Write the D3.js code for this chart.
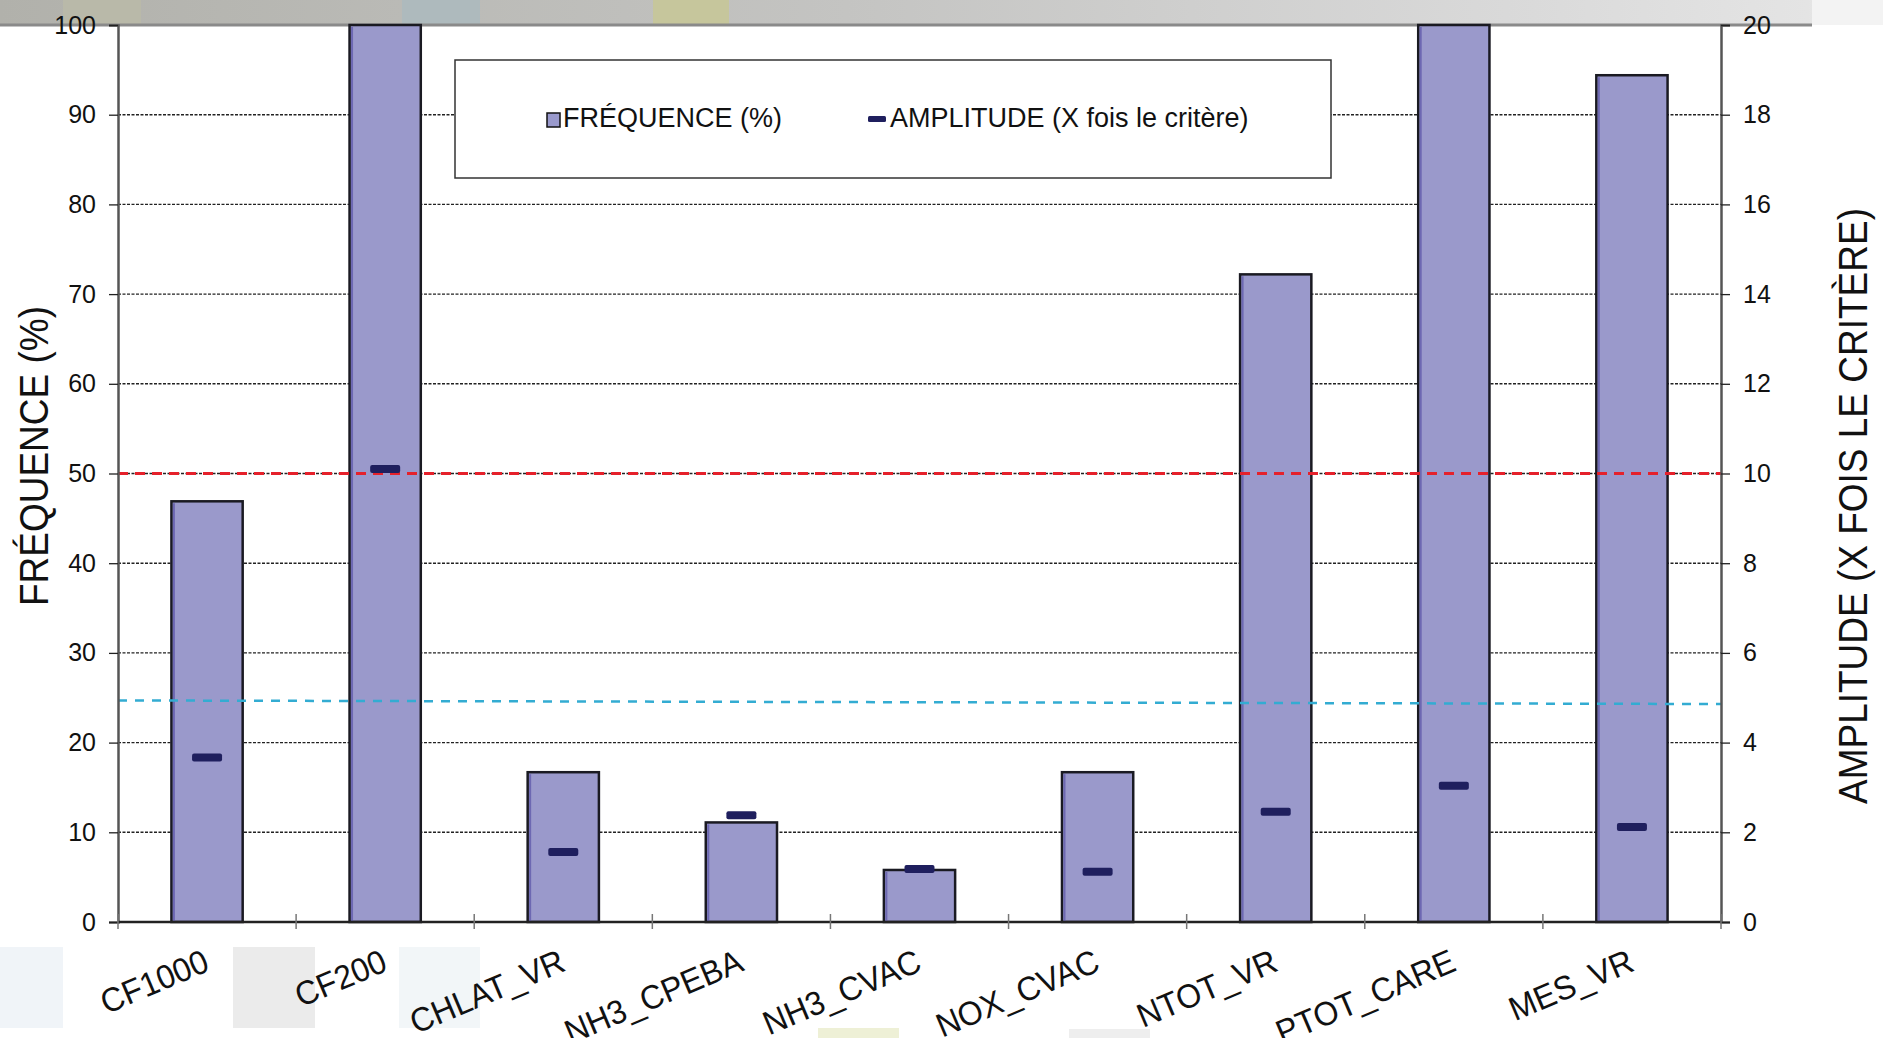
<!DOCTYPE html>
<html lang="fr">
<head>
<meta charset="utf-8">
<script src="https://cdn.jsdelivr.net/npm/d3@7"></script>
<style>
  html, body { margin: 0; padding: 0; background: #ffffff; }
  svg { display: block; font-family: "Liberation Sans", Arial, sans-serif; }
</style>
</head>
<body>
<svg id="chart" width="1883" height="1038"></svg>
<script>
// Stations / paramètres
const categories = ["CF1000", "CF200", "CHLAT_VR", "NH3_CPEBA", "NH3_CVAC", "NOX_CVAC", "NTOT_VR", "PTOT_CARE", "MES_VR"];
// Fréquence de dépassement (%) — axe de gauche
const frequence = [46.9, 100, 16.7, 11.1, 5.8, 16.7, 72.2, 100, 94.4];
// Amplitude du dépassement (X fois le critère) — axe de droite
const amplitude = [3.67, 10.1, 1.56, 2.38, 1.18, 1.12, 2.46, 3.04, 2.12];
// Seuils de référence (en % de fréquence)
const seuilRouge = 50;
const seuilCyan = [24.7, 24.3];
// Graduations
const ticksGauche = [0, 10, 20, 30, 40, 50, 60, 70, 80, 90, 100];
const ticksDroite = [0, 2, 4, 6, 8, 10, 12, 14, 16, 18, 20];
const titreGauche = "FRÉQUENCE (%)";
const titreDroite = "AMPLITUDE (X FOIS LE CRITÈRE)";
const legendeLabels = ["FRÉQUENCE (%)", "AMPLITUDE (X fois le critère)"];

const svg = d3.select("#chart");
const plotL = 118, plotR = 1721, plotT = 25, plotB = 922;

const x = d3.scaleBand().domain(categories).range([plotL, plotR]).paddingInner(0.6).paddingOuter(0.3);
const step = x.step();
const yL = d3.scaleLinear().domain([0, 100]).range([plotB, plotT]);
const yR = d3.scaleLinear().domain([0, 20]).range([plotB, plotT]);

// --- fond : bandeau gris en haut et quelques aplats clairs en bas ---
const defs = svg.append("defs");
const grad = defs.append("linearGradient").attr("id", "bandeau").attr("x1", 0).attr("x2", 1).attr("y1", 0).attr("y2", 0);
grad.append("stop").attr("offset", "0%").attr("stop-color", "#b1b1ab");
grad.append("stop").attr("offset", "45%").attr("stop-color", "#c4c4c2");
grad.append("stop").attr("offset", "80%").attr("stop-color", "#d9d9d9");
grad.append("stop").attr("offset", "96%").attr("stop-color", "#e4e4e4");
grad.append("stop").attr("offset", "100%").attr("stop-color", "#f2f2f2");
svg.append("rect").attr("x", 0).attr("y", 0).attr("width", 1883).attr("height", plotT).attr("fill", "url(#bandeau)");
const patches = [
  {x: 63, y: 0, w: 78, h: plotT, c: "#b9b9a9"},
  {x: 402, y: 0, w: 78, h: plotT, c: "#aebabd"},
  {x: 653, y: 0, w: 76, h: plotT, c: "#c6c69c"},
  {x: 1812, y: 0, w: 71, h: plotT, c: "#f3f3f3"},
  {x: 0, y: 947, w: 63, h: 81, c: "#f0f4f8"},
  {x: 233, y: 947, w: 82, h: 81, c: "#ebebeb"},
  {x: 399, y: 947, w: 81, h: 81, c: "#f2f6f8"},
  {x: 818, y: 1028, w: 81, h: 10, c: "#eef0d6"},
  {x: 1069, y: 1029, w: 81, h: 9, c: "#eeeeee"}
];
svg.append("g").selectAll("rect").data(patches).join("rect")
  .attr("x", d => d.x).attr("y", d => d.y).attr("width", d => d.w).attr("height", d => d.h)
  .attr("fill", d => d.c);
svg.append("line").attr("x1", 0).attr("x2", 1812).attr("y1", plotT).attr("y2", plotT)
  .attr("stroke", "#8a8a8a").attr("stroke-width", 3);

// --- quadrillage ---
svg.append("g").selectAll("line").data(ticksGauche.filter(t => t > 0 && t < 100)).join("line")
  .attr("x1", plotL).attr("x2", plotR)
  .attr("y1", d => yL(d)).attr("y2", d => yL(d))
  .attr("stroke", "#222").attr("stroke-width", 1.4).attr("stroke-dasharray", "3,1.5");

// --- légende (cadre blanc par-dessus le quadrillage) ---
const lg = svg.append("g");
lg.append("rect").attr("x", 455).attr("y", 60).attr("width", 876).attr("height", 118)
  .attr("fill", "#ffffff").attr("stroke", "#333").attr("stroke-width", 1.5);
lg.append("rect").attr("x", 547).attr("y", 113).attr("width", 13).attr("height", 14)
  .attr("fill", "#9999cc").attr("stroke", "#111").attr("stroke-width", 1.5);
lg.append("text").attr("x", 563).attr("y", 120).attr("dominant-baseline", "middle")
  .attr("font-size", 27).attr("fill", "#111").text(legendeLabels[0]);
lg.append("rect").attr("x", 868).attr("y", 116).attr("width", 18).attr("height", 6).attr("rx", 1.5)
  .attr("fill", "#1f1f5e");
lg.append("text").attr("x", 890).attr("y", 120).attr("dominant-baseline", "middle")
  .attr("font-size", 27).attr("fill", "#111").text(legendeLabels[1]);

// --- barres de fréquence ---
const bars = svg.append("g");
bars.selectAll("rect.barre").data(frequence).join("rect").attr("class", "barre")
  .attr("x", (d, i) => x(categories[i]))
  .attr("y", d => yL(d))
  .attr("width", x.bandwidth())
  .attr("height", d => yL(0) - yL(d))
  .attr("fill", "#9a99cb").attr("stroke", "#1a1a22").attr("stroke-width", 2.5);
bars.selectAll("line.reflet").data(frequence).join("line").attr("class", "reflet")
  .attr("x1", (d, i) => x(categories[i]) + 2.5).attr("x2", (d, i) => x(categories[i]) + 2.5)
  .attr("y1", d => yL(d) + 2).attr("y2", yL(0) - 1)
  .attr("stroke", "#6d68b2").attr("stroke-width", 2);

// --- seuils ---
svg.append("line").attr("x1", plotL).attr("x2", plotR)
  .attr("y1", yL(seuilRouge)).attr("y2", yL(seuilRouge))
  .attr("stroke", "#e5212b").attr("stroke-width", 3).attr("stroke-dasharray", "10,7");
svg.append("line").attr("x1", plotL).attr("x2", plotR)
  .attr("y1", yL(seuilCyan[0])).attr("y2", yL(seuilCyan[1]))
  .attr("stroke", "#33acd2").attr("stroke-width", 2.5).attr("stroke-dasharray", "9,8");

// --- marqueurs d'amplitude ---
svg.append("g").selectAll("rect").data(amplitude).join("rect")
  .attr("x", (d, i) => x(categories[i]) + x.bandwidth() / 2 - 15)
  .attr("y", d => yR(d) - 4)
  .attr("width", 30).attr("height", 8).attr("rx", 2)
  .attr("fill", "#1f1f5e");

// --- axes ---
const axeG = svg.append("g").attr("transform", `translate(${plotL},0)`)
  .call(d3.axisLeft(yL).tickValues(ticksGauche).tickSize(9).tickPadding(13).tickFormat(d3.format("d")));
const axeD = svg.append("g").attr("transform", `translate(${plotR},0)`)
  .call(d3.axisRight(yR).tickValues(ticksDroite).tickSize(9).tickPadding(13).tickFormat(d3.format("d")));
[axeG, axeD].forEach(a => {
  a.select(".domain").attr("stroke", "#555").attr("stroke-width", 2.5);
  a.selectAll(".tick line").attr("stroke", "#222").attr("stroke-width", 1.3);
  a.selectAll(".tick text").attr("font-size", 25).attr("fill", "#111")
    .attr("font-family", "'Liberation Sans', Arial, sans-serif");
});

// axe des catégories : ligne de base, graduations entre catégories, libellés inclinés
svg.append("line").attr("x1", plotL).attr("x2", plotR).attr("y1", plotB).attr("y2", plotB)
  .attr("stroke", "#222").attr("stroke-width", 2.5);
svg.append("g").selectAll("line").data(d3.range(categories.length + 1)).join("line")
  .attr("x1", i => plotL + i * step).attr("x2", i => plotL + i * step)
  .attr("y1", plotB - 8).attr("y2", plotB + 7)
  .attr("stroke", "#777").attr("stroke-width", 1.5);
svg.append("g").selectAll("text").data(categories).join("text")
  .attr("transform", d => `translate(${x(d) + x.bandwidth() / 2 + 4},970) rotate(-23) scale(1.03,1.08)`)
  .attr("text-anchor", "end").attr("font-size", 31).attr("fill", "#111")
  .text(d => d);

// --- titres des axes ---
svg.append("text").attr("transform", "translate(48,456) rotate(-90) scale(1,1.1)")
  .attr("text-anchor", "middle").attr("font-size", 37).attr("fill", "#111").text(titreGauche);
svg.append("text").attr("transform", "translate(1867,506) rotate(-90) scale(1,1.1)")
  .attr("text-anchor", "middle").attr("font-size", 37).attr("fill", "#111").text(titreDroite);
</script>
</body>
</html>
